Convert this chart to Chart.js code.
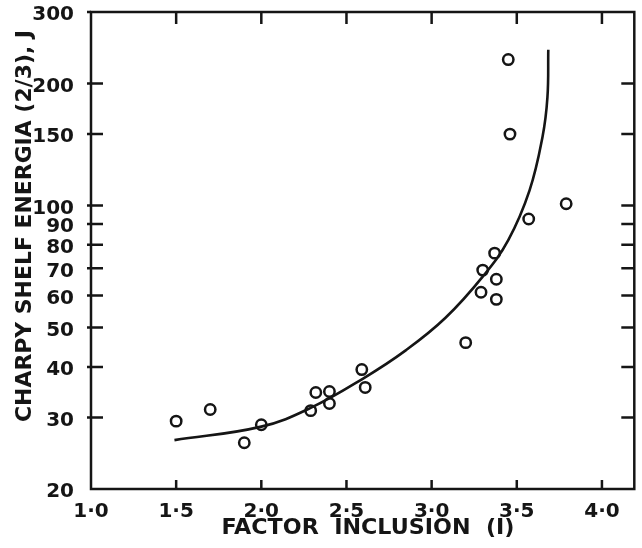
<!DOCTYPE html>
<html><head><meta charset="utf-8">
<script src="https://cdn.jsdelivr.net/npm/chart.js@4"></script>
<style>html,body{margin:0;padding:0;background:#fff}#wrap{width:642px;height:548px}</style>
</head><body><div id="wrap"><canvas id="c" width="642" height="548"></canvas></div>
<script>
const xTickValues = [1.0, 1.5, 2.0, 2.5, 3.0, 3.5, 4.0];
const xTickLabels = ['1·0', '1·5', '2·0', '2·5', '3·0', '3·5', '4·0'];
const yTickValues = [20, 30, 40, 50, 60, 70, 80, 90, 100, 150, 200, 300];
const yTickLabels = ['20', '30', '40', '50', '60', '70', '80', '90', '100', '150', '200', '300'];
const sideTickValues = [30, 40, 50, 60, 70, 80, 90, 100, 150, 200];

const pointX = [1.50, 1.70, 1.90, 2.00, 2.29, 2.32, 2.40, 2.40, 2.59, 2.61, 3.20, 3.29, 3.30, 3.37, 3.38, 3.38, 3.45, 3.46, 3.57, 3.79];
const pointY = [29.4, 31.4, 26.0, 28.8, 31.2, 34.6, 32.5, 34.8, 39.4, 35.6, 45.9, 61.1, 69.3, 76.3, 65.8, 58.7, 229, 150, 92.6, 101];

const curveX = [1.49, 2.0, 2.29, 2.60, 2.85, 3.08, 3.30, 3.45, 3.575, 3.651, 3.680, 3.685];
const curveY = [26.4, 28.5, 31.7, 37.5, 44.0, 52.8, 66.8, 82.2, 109, 147.6, 185, 242];

const xTitle = 'FACTOR  INCLUSION  (I)';
const yTitle = 'CHARPY SHELF ENERGIA (2/3), J';

const INK = '#151515';
const FONT = '"DejaVu Sans", sans-serif';

const framePlugin = {
  id: 'frame',
  afterDraw(chart) {
    const {ctx, chartArea: a, scales: {x, y}} = chart;
    ctx.save();
    ctx.strokeStyle = INK;
    ctx.lineWidth = 2.5;
    ctx.strokeRect(a.left, a.top, a.right - a.left, a.bottom - a.top);
    ctx.beginPath();
    yTickValues.forEach(v => {
      const py = y.getPixelForValue(v);
      if (v > 20 && v < 300) { ctx.moveTo(a.left - 4, py); ctx.lineTo(a.left + 12, py); }
      else if (v === 300) { ctx.moveTo(a.left - 4, py); ctx.lineTo(a.left, py); }
    });
    sideTickValues.forEach(v => {
      const py = y.getPixelForValue(v);
      ctx.moveTo(a.right - 13, py); ctx.lineTo(a.right, py);
    });
    xTickValues.forEach(v => {
      if (v <= 1.0) return;
      const px = x.getPixelForValue(v);
      ctx.moveTo(px, a.top); ctx.lineTo(px, a.top + 12);
      ctx.moveTo(px, a.bottom); ctx.lineTo(px, a.bottom - 9);
    });
    ctx.stroke();

    ctx.fillStyle = INK;
    ctx.font = 'bold 22px ' + FONT;
    ctx.textAlign = 'center';
    ctx.textBaseline = 'middle';
    let w = ctx.measureText(xTitle).width;
    ctx.save();
    ctx.translate(368, 528);
    ctx.scale(293 / w, 1);
    ctx.fillText(xTitle, 0, 0);
    ctx.restore();
    w = ctx.measureText(yTitle).width;
    ctx.save();
    ctx.translate(25, 226);
    ctx.rotate(-Math.PI / 2);
    ctx.scale(392 / w, 1);
    ctx.fillText(yTitle, 0, 0);
    ctx.restore();
    ctx.restore();
  }
};

new Chart(document.getElementById('c'), {
  type: 'scatter',
  data: {
    datasets: [
      {
        label: 'curve',
        data: curveX.map((v, i) => ({x: v, y: curveY[i]})),
        showLine: true,
        borderColor: INK,
        borderWidth: 2.6,
        pointRadius: 0,
        tension: 0.4,
        fill: false
      },
      {
        label: 'data',
        data: pointX.map((v, i) => ({x: v, y: pointY[i]})),
        showLine: false,
        pointStyle: 'circle',
        pointRadius: 5.2,
        pointBorderWidth: 2.5,
        pointBorderColor: INK,
        pointBackgroundColor: 'rgba(255,255,255,0)'
      }
    ]
  },
  options: {
    responsive: false,
    animation: false,
    devicePixelRatio: 1,
    layout: {padding: {top: 12, right: 1, left: 0, bottom: 0}},
    plugins: {legend: {display: false}, tooltip: {enabled: false}},
    scales: {
      x: {
        type: 'linear',
        min: 1.0,
        max: 4.19,
        afterBuildTicks: s => { s.ticks = xTickValues.map(v => ({value: v})); },
        afterFit: s => { s.height = 59; s.paddingLeft = 0; s.paddingRight = 0; },
        grid: {display: false},
        border: {display: false},
        ticks: {
          autoSkip: false,
          maxRotation: 0,
          padding: 3,
          color: INK,
          font: {family: FONT, size: 20, weight: 'bold'},
          callback: v => { const i = xTickValues.findIndex(t => Math.abs(t - v) < 1e-6); return i >= 0 ? xTickLabels[i] : ''; }
        }
      },
      y: {
        type: 'logarithmic',
        min: 20,
        max: 300,
        afterBuildTicks: s => { s.ticks = yTickValues.map(v => ({value: v})); },
        afterFit: s => { s.width = 91; s.paddingTop = 0; s.paddingBottom = 0; },
        grid: {display: false},
        border: {display: false},
        ticks: {
          autoSkip: false,
          padding: 9,
          labelOffset: 3,
          color: INK,
          font: {family: FONT, size: 20, weight: 'bold'},
          callback: v => { const i = yTickValues.findIndex(t => Math.abs(t - v) < 1e-6); return i >= 0 ? yTickLabels[i] : ''; }
        }
      }
    }
  },
  plugins: [framePlugin]
});
</script></body></html>
